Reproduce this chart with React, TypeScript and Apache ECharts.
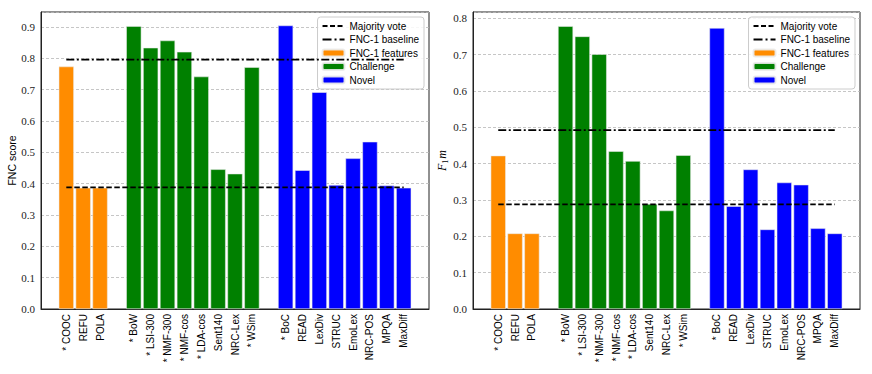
import React, { useEffect, useRef } from "react";
import * as echarts from "echarts";

// ---- Data ----
const FEATURE_LABELS = ["* COOC", "REFU", "POLA"];
const CHALLENGE_LABELS = ["* BoW", "* LSI-300", "* NMF-300", "* NMF-cos", "* LDA-cos", "Sent140", "NRC-Lex", "* WSim"];
const NOVEL_LABELS = ["* BoC", "READ", "LexDiv", "STRUC", "EmoLex", "NRC-POS", "MPQA", "MaxDiff"];

const fncFeatures = [0.774, 0.387, 0.387];
const fncChallenge = [0.903, 0.834, 0.857, 0.821, 0.742, 0.446, 0.432, 0.772];
const fncNovel = [0.905, 0.443, 0.692, 0.396, 0.481, 0.534, 0.394, 0.387];
const fncMajority = 0.388;
const fncBaseline = 0.796;

const f1Features = [0.422, 0.208, 0.208];
const f1Challenge = [0.778, 0.75, 0.701, 0.434, 0.407, 0.289, 0.271, 0.423];
const f1Novel = [0.773, 0.283, 0.384, 0.219, 0.348, 0.342, 0.222, 0.208];
const f1Majority = 0.288;
const f1Baseline = 0.492;

const Y_TICK_STEP = 0.1;

// ---- Layout helpers ----
const CATEGORIES = ["", ...FEATURE_LABELS, " ", ...CHALLENGE_LABELS, "  ", ...NOVEL_LABELS, "   "];
const FEAT_START = 1;
const CHAL_START = FEAT_START + FEATURE_LABELS.length + 1;
const NOVEL_START = CHAL_START + CHALLENGE_LABELS.length + 1;
const LAST_BAR = NOVEL_START + NOVEL_LABELS.length - 1;

function place(values: number[], start: number): (number | null)[] {
  return CATEGORIES.map((_, i) => (i >= start && i < start + values.length ? values[i - start] : null));
}
function hline(v: number): (number | null)[] {
  return CATEGORIES.map((_, i) => (i === FEAT_START || i === LAST_BAR ? v : null));
}

const SANS = "Liberation Sans";
const SERIF = "Liberation Serif";
const COLORS = { feat: "#ff8c00", chal: "#008000", novel: "#0000ff" };
const DASH_MAJ = [5.5, 2.5];
const DASH_BASE = [8, 2.5, 2, 2.5];
const DASH_MAJ_LEG = [5, 2.5];
const DASH_BASE_LEG = [9, 3, 2, 3];

function buildPanel(idx: number, feat: number[], chal: number[], novel: number[], maj: number, base: number) {
  const bar = (name: string, data: (number | null)[], color: string) => ({
    name,
    type: "bar",
    xAxisIndex: idx,
    yAxisIndex: idx,
    data,
    barWidth: "90%",
    barGap: "-100%",
    itemStyle: { color, borderColor: "rgba(235,235,235,0.9)", borderWidth: 0.6 },
  });
  const line = (name: string, v: number, dash: number[]) => ({
    name,
    type: "line",
    xAxisIndex: idx,
    yAxisIndex: idx,
    data: hline(v),
    connectNulls: true,
    symbol: "none",
    z: 5,
    lineStyle: { color: "#000", width: 1.8, type: dash },
    itemStyle: { color: "rgba(0,0,0,0)", borderWidth: 0 },
  });
  return [
    bar("FNC-1 features", place(feat, FEAT_START), COLORS.feat),
    bar("Challenge", place(chal, CHAL_START), COLORS.chal),
    bar("Novel", place(novel, NOVEL_START), COLORS.novel),
    line("Majority vote", maj, DASH_MAJ),
    line("FNC-1 baseline", base, DASH_BASE),
  ];
}

function xAxis(gridIndex: number) {
  return {
    type: "category",
    gridIndex,
    data: CATEGORIES,
    boundaryGap: true,
    axisLine: { lineStyle: { color: "#222", width: 1 } },
    axisTick: {
      alignWithLabel: true,
      length: 3.5,
      interval: (_i: number, v: string) => v.trim() !== "",
      lineStyle: { color: "#222" },
    },
    axisLabel: {
      interval: 0,
      rotate: 90,
      margin: 5,
      fontFamily: SANS,
      fontSize: 10,
      color: "#000",
      formatter: (v: string) => v.trim(),
    },
    splitLine: { show: false },
  };
}

function yAxis(gridIndex: number, max: number, name: string, nameGap: number, rich?: any) {
  return {
    type: "value",
    gridIndex,
    min: 0,
    max,
    interval: Y_TICK_STEP,
    name,
    nameLocation: "middle",
    nameGap,
    nameTextStyle: { fontFamily: SANS, fontSize: 10.5, color: "#000", rich },
    axisLine: { show: true, lineStyle: { color: "#222", width: 1 } },
    axisTick: { show: false },
    axisLabel: {
      fontFamily: SERIF,
      fontSize: 11,
      color: "#222",
      margin: 6,
      formatter: (v: number) => {
        const k = v / Y_TICK_STEP;
        return Math.abs(k - Math.round(k)) < 1e-6 ? v.toFixed(1) : "";
      },
    },
    splitLine: { show: true, lineStyle: { color: "#b8b8b8", width: 0.8, type: [3, 2] } },
  };
}

function legend(right: number) {
  const noDot = { color: "rgba(0,0,0,0)", borderWidth: 0, opacity: 0 };
  return {
    orient: "vertical",
    right,
    top: 17,
    padding: [4, 5, 4, 4],
    itemGap: 3.5,
    itemWidth: 22,
    itemHeight: 7,
    backgroundColor: "rgba(255,255,255,0.85)",
    borderColor: "#cccccc",
    borderWidth: 1,
    borderRadius: 3,
    textStyle: { fontFamily: SANS, fontSize: 10, color: "#000" },
    data: [
      { name: "Majority vote", itemStyle: noDot, lineStyle: { color: "#000", width: 1.8, type: DASH_MAJ_LEG } },
      { name: "FNC-1 baseline", itemStyle: noDot, lineStyle: { color: "#000", width: 1.8, type: DASH_BASE_LEG } },
      "FNC-1 features",
      "Challenge",
      "Novel",
    ],
    selectedMode: false,
  };
}

export default function App() {
  const ref = useRef<HTMLDivElement>(null);
  useEffect(() => {
    if (!ref.current) return;
    const chart = echarts.init(ref.current, undefined, { renderer: "svg" });
    const gridStyle = { show: true, borderColor: "#222", borderWidth: 1, top: 12, height: 297, containLabel: false };
    chart.setOption({
      animation: false,
      backgroundColor: "#fff",
      grid: [
        { ...gridStyle, left: 41, width: 388 },
        { ...gridStyle, left: 473, width: 387 },
      ],
      xAxis: [xAxis(0), xAxis(1)],
      yAxis: [
        yAxis(0, 0.948, "FNC score", 23),
        yAxis(1, 0.817, "{i|F}{s|1}{i|m}", 22, {
          i: { fontFamily: SERIF, fontStyle: "italic", fontSize: 12, color: "#000", lineHeight: 14 },
          s: { fontFamily: SERIF, fontSize: 8, color: "#000", lineHeight: 14, verticalAlign: "bottom", padding: [4, 1, 0, 0] },
        }),
      ],
      legend: [legend(448), legend(17)],
      series: [
        ...buildPanel(0, fncFeatures, fncChallenge, fncNovel, fncMajority, fncBaseline),
        ...buildPanel(1, f1Features, f1Challenge, f1Novel, f1Majority, f1Baseline),
      ],
    });
    return () => chart.dispose();
  }, []);
  return <div ref={ref} style={{ position: "fixed", left: 0, top: 0, width: 872, height: 374 }} />;
}
